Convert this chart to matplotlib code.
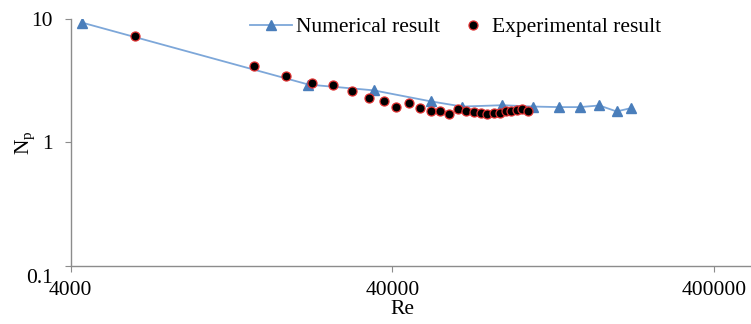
import matplotlib
matplotlib.use("Agg")
import matplotlib.pyplot as plt
from matplotlib.transforms import ScaledTranslation

plt.rcParams['font.family'] = ['Liberation Serif', 'DejaVu Serif']
plt.rcParams['mathtext.fontset'] = 'custom'
plt.rcParams['mathtext.rm'] = 'Liberation Serif'
plt.rcParams['mathtext.it'] = 'Liberation Serif:italic'

# Numerical result
re_num = [4350, 21930, 34920, 52540, 65920, 87830, 109650, 132100, 152700, 175800, 198700, 219600]
np_num = [9.33, 2.94, 2.64, 2.15, 1.95, 2.00, 1.95, 1.93, 1.93, 1.99, 1.78, 1.89]

# Experimental result
re_exp = [6340, 14860, 18700, 22470, 26120, 29840, 33700, 37530, 41160, 45110,
          48820, 52540, 56330, 60070, 63750, 67830, 71590, 75100, 78670, 82490,
          86580, 90060, 93650, 97550, 101300, 105200]
np_exp = [7.31, 4.16, 3.48, 3.05, 2.91, 2.59, 2.28, 2.15, 1.95, 2.07,
          1.89, 1.81, 1.81, 1.70, 1.85, 1.80, 1.77, 1.74, 1.69, 1.72,
          1.74, 1.78, 1.78, 1.82, 1.87, 1.81]

x_ticks = [4000, 40000, 400000]
x_ticklabels = ['4000', '40000', '400000']
y_ticks = [0.1, 1, 10]
y_ticklabels = ['0.1', '1', '10']

FS = 15.5
W, H = 751, 324

fig = plt.figure(figsize=(7.51, 3.24), dpi=100)
ax = fig.add_axes([0.0941, 0.18, 0.9059, 0.7614])
ax.set_xscale('log')
ax.set_yscale('log')

line_color = '#7DA7D9'
tri_color = '#4A7EBB'
h_num, = ax.plot(re_num, np_num, color=line_color, lw=1.3, marker='^', markersize=6.5,
                 markerfacecolor=tri_color, markeredgecolor=tri_color,
                 label='Numerical result', zorder=2)
h_exp, = ax.plot(re_exp, np_exp, linestyle='none', marker='o', markersize=6.5,
                 markerfacecolor='black', markeredgecolor='#E03030', markeredgewidth=0.9,
                 label='Experimental result', zorder=3)

ax.set_xlim(4000, 520000)
ax.set_ylim(0.1, 10)
ax.set_xticks(x_ticks)
ax.set_xticklabels(x_ticklabels)
ax.set_yticks(y_ticks)
ax.set_yticklabels(y_ticklabels)
ax.minorticks_off()

for s in ['top', 'right']:
    ax.spines[s].set_visible(False)
for s in ['left', 'bottom']:
    ax.spines[s].set_color('#8C8C8C')
    ax.spines[s].set_linewidth(1.0)
ax.tick_params(axis='both', which='major', colors='#8C8C8C', labelcolor='black',
               labelsize=FS, length=4, direction='out')
ax.tick_params(axis='x', pad=7)
ax.tick_params(axis='y', pad=9)

# shift the 0.1 label slightly down, as in the reference
for lbl in ax.get_yticklabels():
    if lbl.get_text() == '0.1':
        lbl.set_transform(lbl.get_transform() + ScaledTranslation(0, -10/100, fig.dpi_scale_trans))

ax.set_xlabel('Re', fontsize=FS)
ax.xaxis.set_label_coords((402 - 70.7) / (W - 70.7), -0.14)
ax.set_ylabel(r'N$_{\mathregular{p}}$', fontsize=FS)
ax.yaxis.set_label_coords(-0.05, 0.5)

leg1 = fig.legend(handles=[h_num], loc='center left', bbox_to_anchor=(250 / W, 1 - 27 / H),
                  bbox_transform=fig.transFigure, frameon=False, fontsize=FS,
                  handlelength=1.95, handletextpad=0.2, borderpad=0, borderaxespad=0)
leg2 = fig.legend(handles=[h_exp], loc='center left', bbox_to_anchor=(458 / W, 1 - 27 / H),
                  bbox_transform=fig.transFigure, frameon=False, fontsize=FS,
                  handlelength=1.4, handletextpad=0.2, borderpad=0, borderaxespad=0)

fig.savefig('out.png', dpi=100)
